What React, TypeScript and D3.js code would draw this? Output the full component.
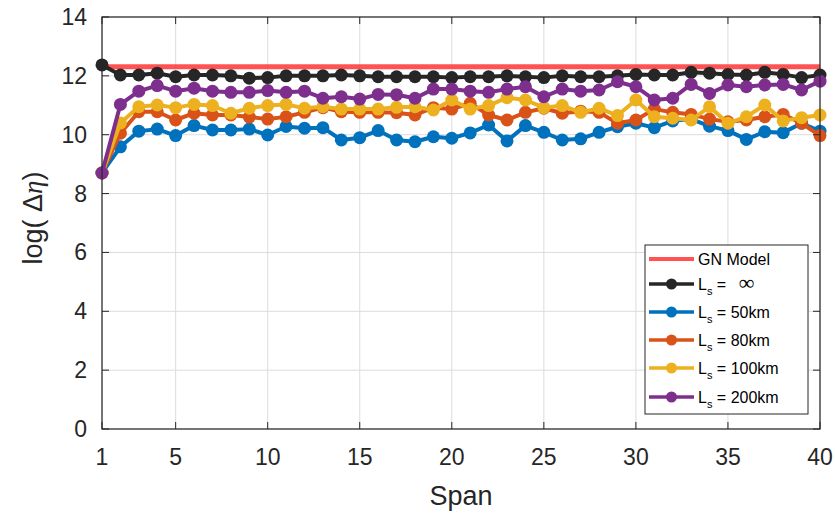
import React from "react";
import * as d3 from "d3";

const spans = d3.range(1, 41);
const gnModel = 12.31;
const lInf = [12.37, 12.03, 12.03, 12.09, 11.97, 12.03, 12.03, 12.0, 11.92, 11.94, 12.0, 12.0, 12.0, 12.03, 12.0, 11.97, 11.97, 11.97, 11.97, 11.94, 11.97, 11.97, 12.0, 11.97, 11.94, 12.0, 11.97, 11.97, 12.0, 12.05, 12.03, 12.03, 12.12, 12.09, 12.05, 12.03, 12.12, 12.05, 11.94, 12.03];
const l50 = [8.7, 9.59, 10.12, 10.19, 9.97, 10.31, 10.16, 10.16, 10.19, 9.99, 10.28, 10.22, 10.24, 9.82, 9.9, 10.14, 9.82, 9.76, 9.93, 9.88, 10.06, 10.33, 9.79, 10.31, 10.08, 9.82, 9.86, 10.08, 10.27, 10.39, 10.24, 10.47, 10.53, 10.29, 10.14, 9.84, 10.1, 10.07, 10.39, 10.12];
const l80 = [8.7, 10.05, 10.78, 10.78, 10.5, 10.73, 10.67, 10.67, 10.6, 10.53, 10.61, 10.76, 10.92, 10.78, 10.76, 10.76, 10.75, 10.67, 10.92, 10.87, 11.07, 10.67, 10.5, 10.76, 10.9, 10.73, 10.8, 10.76, 10.39, 10.5, 10.87, 10.76, 10.69, 10.53, 10.44, 10.5, 10.61, 10.69, 10.39, 9.97];
const l100 = [8.7, 10.4, 10.95, 11.01, 10.92, 11.03, 10.99, 10.73, 10.9, 10.99, 11.03, 10.9, 10.95, 10.87, 10.87, 10.87, 10.93, 10.95, 10.84, 11.18, 10.87, 10.99, 11.26, 11.18, 10.92, 10.99, 10.76, 10.9, 10.65, 11.18, 10.61, 10.56, 10.5, 10.95, 10.39, 10.61, 11.01, 10.47, 10.58, 10.67];
const l200 = [8.7, 11.03, 11.48, 11.67, 11.48, 11.58, 11.48, 11.44, 11.44, 11.5, 11.44, 11.48, 11.24, 11.29, 11.21, 11.37, 11.36, 11.24, 11.55, 11.55, 11.48, 11.44, 11.55, 11.63, 11.29, 11.55, 11.48, 11.52, 11.8, 11.63, 11.18, 11.24, 11.71, 11.4, 11.69, 11.63, 11.69, 11.71, 11.52, 11.82];
const xTicks = [1, 5, 10, 15, 20, 25, 30, 35, 40];
const yTicks = [0, 2, 4, 6, 8, 10, 12, 14];

const seriesList = [
  { name: "∞", values: lInf, color: "#262626" },
  { name: "50km", values: l50, color: "#0072BD" },
  { name: "80km", values: l80, color: "#D95319" },
  { name: "100km", values: l100, color: "#EDB120" },
  { name: "200km", values: l200, color: "#7E2F8E" },
];

export default function App() {
  const W = 835, H = 521;
  const left = 102, right = 820, top = 17, bottom = 429;
  const x = d3.scaleLinear().domain([1, 40]).range([left, right]);
  const y = d3.scaleLinear().domain([0, 14]).range([bottom, top]);
  const line = d3.line<number>().x((_, i) => x(spans[i])).y((d) => y(d));
  const axisColor = "#262626";
  const font = "Liberation Sans, Arial, Helvetica, sans-serif";
  const legX = 645, legY = 245, legW = 163, legH = 169;
  const rowY = [259, 284, 312, 340, 368, 397];
  return (
    <svg width={W} height={H} style={{ position: "absolute", left: 0, top: 0, background: "#fff" }}>
      <rect x={0} y={0} width={W} height={H} fill="#fff" />
      {xTicks.map((t) => (
        <line key={"gx" + t} x1={x(t)} x2={x(t)} y1={top} y2={bottom} stroke="#dcdcdc" strokeWidth={1} />
      ))}
      {yTicks.map((t) => (
        <line key={"gy" + t} x1={left} x2={right} y1={y(t)} y2={y(t)} stroke="#dcdcdc" strokeWidth={1} />
      ))}
      <line x1={x(1)} x2={x(40)} y1={y(gnModel)} y2={y(gnModel)} stroke="#FF4040" strokeOpacity={0.9} strokeWidth={5} />
      {seriesList.map((s) => (
        <g key={s.name}>
          <path d={line(s.values) || ""} fill="none" stroke={s.color} strokeWidth={4} strokeLinejoin="round" />
          {s.values.map((v, i) => (
            <circle key={i} cx={x(spans[i])} cy={y(v)} r={6.5} fill={s.color} />
          ))}
        </g>
      ))}
      <rect x={left} y={top} width={right - left} height={bottom - top} fill="none" stroke={axisColor} strokeWidth={1.2} />
      {xTicks.map((t) => (
        <g key={"tx" + t}>
          <line x1={x(t)} x2={x(t)} y1={bottom} y2={bottom - 7} stroke={axisColor} />
          <line x1={x(t)} x2={x(t)} y1={top} y2={top + 7} stroke={axisColor} />
          <text x={x(t)} y={465} textAnchor="middle" fontSize={23} fontFamily={font} fill={axisColor}>{t}</text>
        </g>
      ))}
      {yTicks.map((t) => (
        <g key={"ty" + t}>
          <line x1={left} x2={left + 7} y1={y(t)} y2={y(t)} stroke={axisColor} />
          <line x1={right} x2={right - 7} y1={y(t)} y2={y(t)} stroke={axisColor} />
          <text x={87} y={y(t) + 8} textAnchor="end" fontSize={23} fontFamily={font} fill={axisColor}>{t}</text>
        </g>
      ))}
      <text x={(left + right) / 2} y={505} textAnchor="middle" fontSize={27} fontFamily={font} fill={axisColor}>Span</text>
      <text transform={`translate(42, 218) rotate(-90)`} textAnchor="middle" fontSize={27} fontFamily={font} fill={axisColor}>
        log( Δ<tspan fontFamily="Liberation Serif, Times New Roman, serif" fontStyle="italic">η</tspan>)
      </text>
      <rect x={legX} y={legY} width={legW} height={legH} fill="#fff" stroke={axisColor} strokeWidth={1} />
      <line x1={649} x2={694} y1={rowY[0]} y2={rowY[0]} stroke="#FF4040" strokeOpacity={0.9} strokeWidth={4} />
      <text x={698} y={rowY[0] + 6} fontSize={16} fontFamily={font} fill="#000">GN Model</text>
      {seriesList.map((s, i) => (
        <g key={"leg" + s.name}>
          <line x1={649} x2={694} y1={rowY[i + 1]} y2={rowY[i + 1]} stroke={s.color} strokeWidth={3.5} />
          <circle cx={671.5} cy={rowY[i + 1]} r={5.5} fill={s.color} />
          <text x={698} y={rowY[i + 1] + 6} fontSize={16} fontFamily={font} fill="#000">
            L<tspan fontSize={11} dy={5}>s</tspan><tspan dy={-5}> = </tspan>
            {s.name === "∞" ? <tspan dx={8} fontSize={22} fontFamily="Liberation Serif, serif">∞</tspan> : <tspan>{s.name}</tspan>}
          </text>
        </g>
      ))}
    </svg>
  );
}
